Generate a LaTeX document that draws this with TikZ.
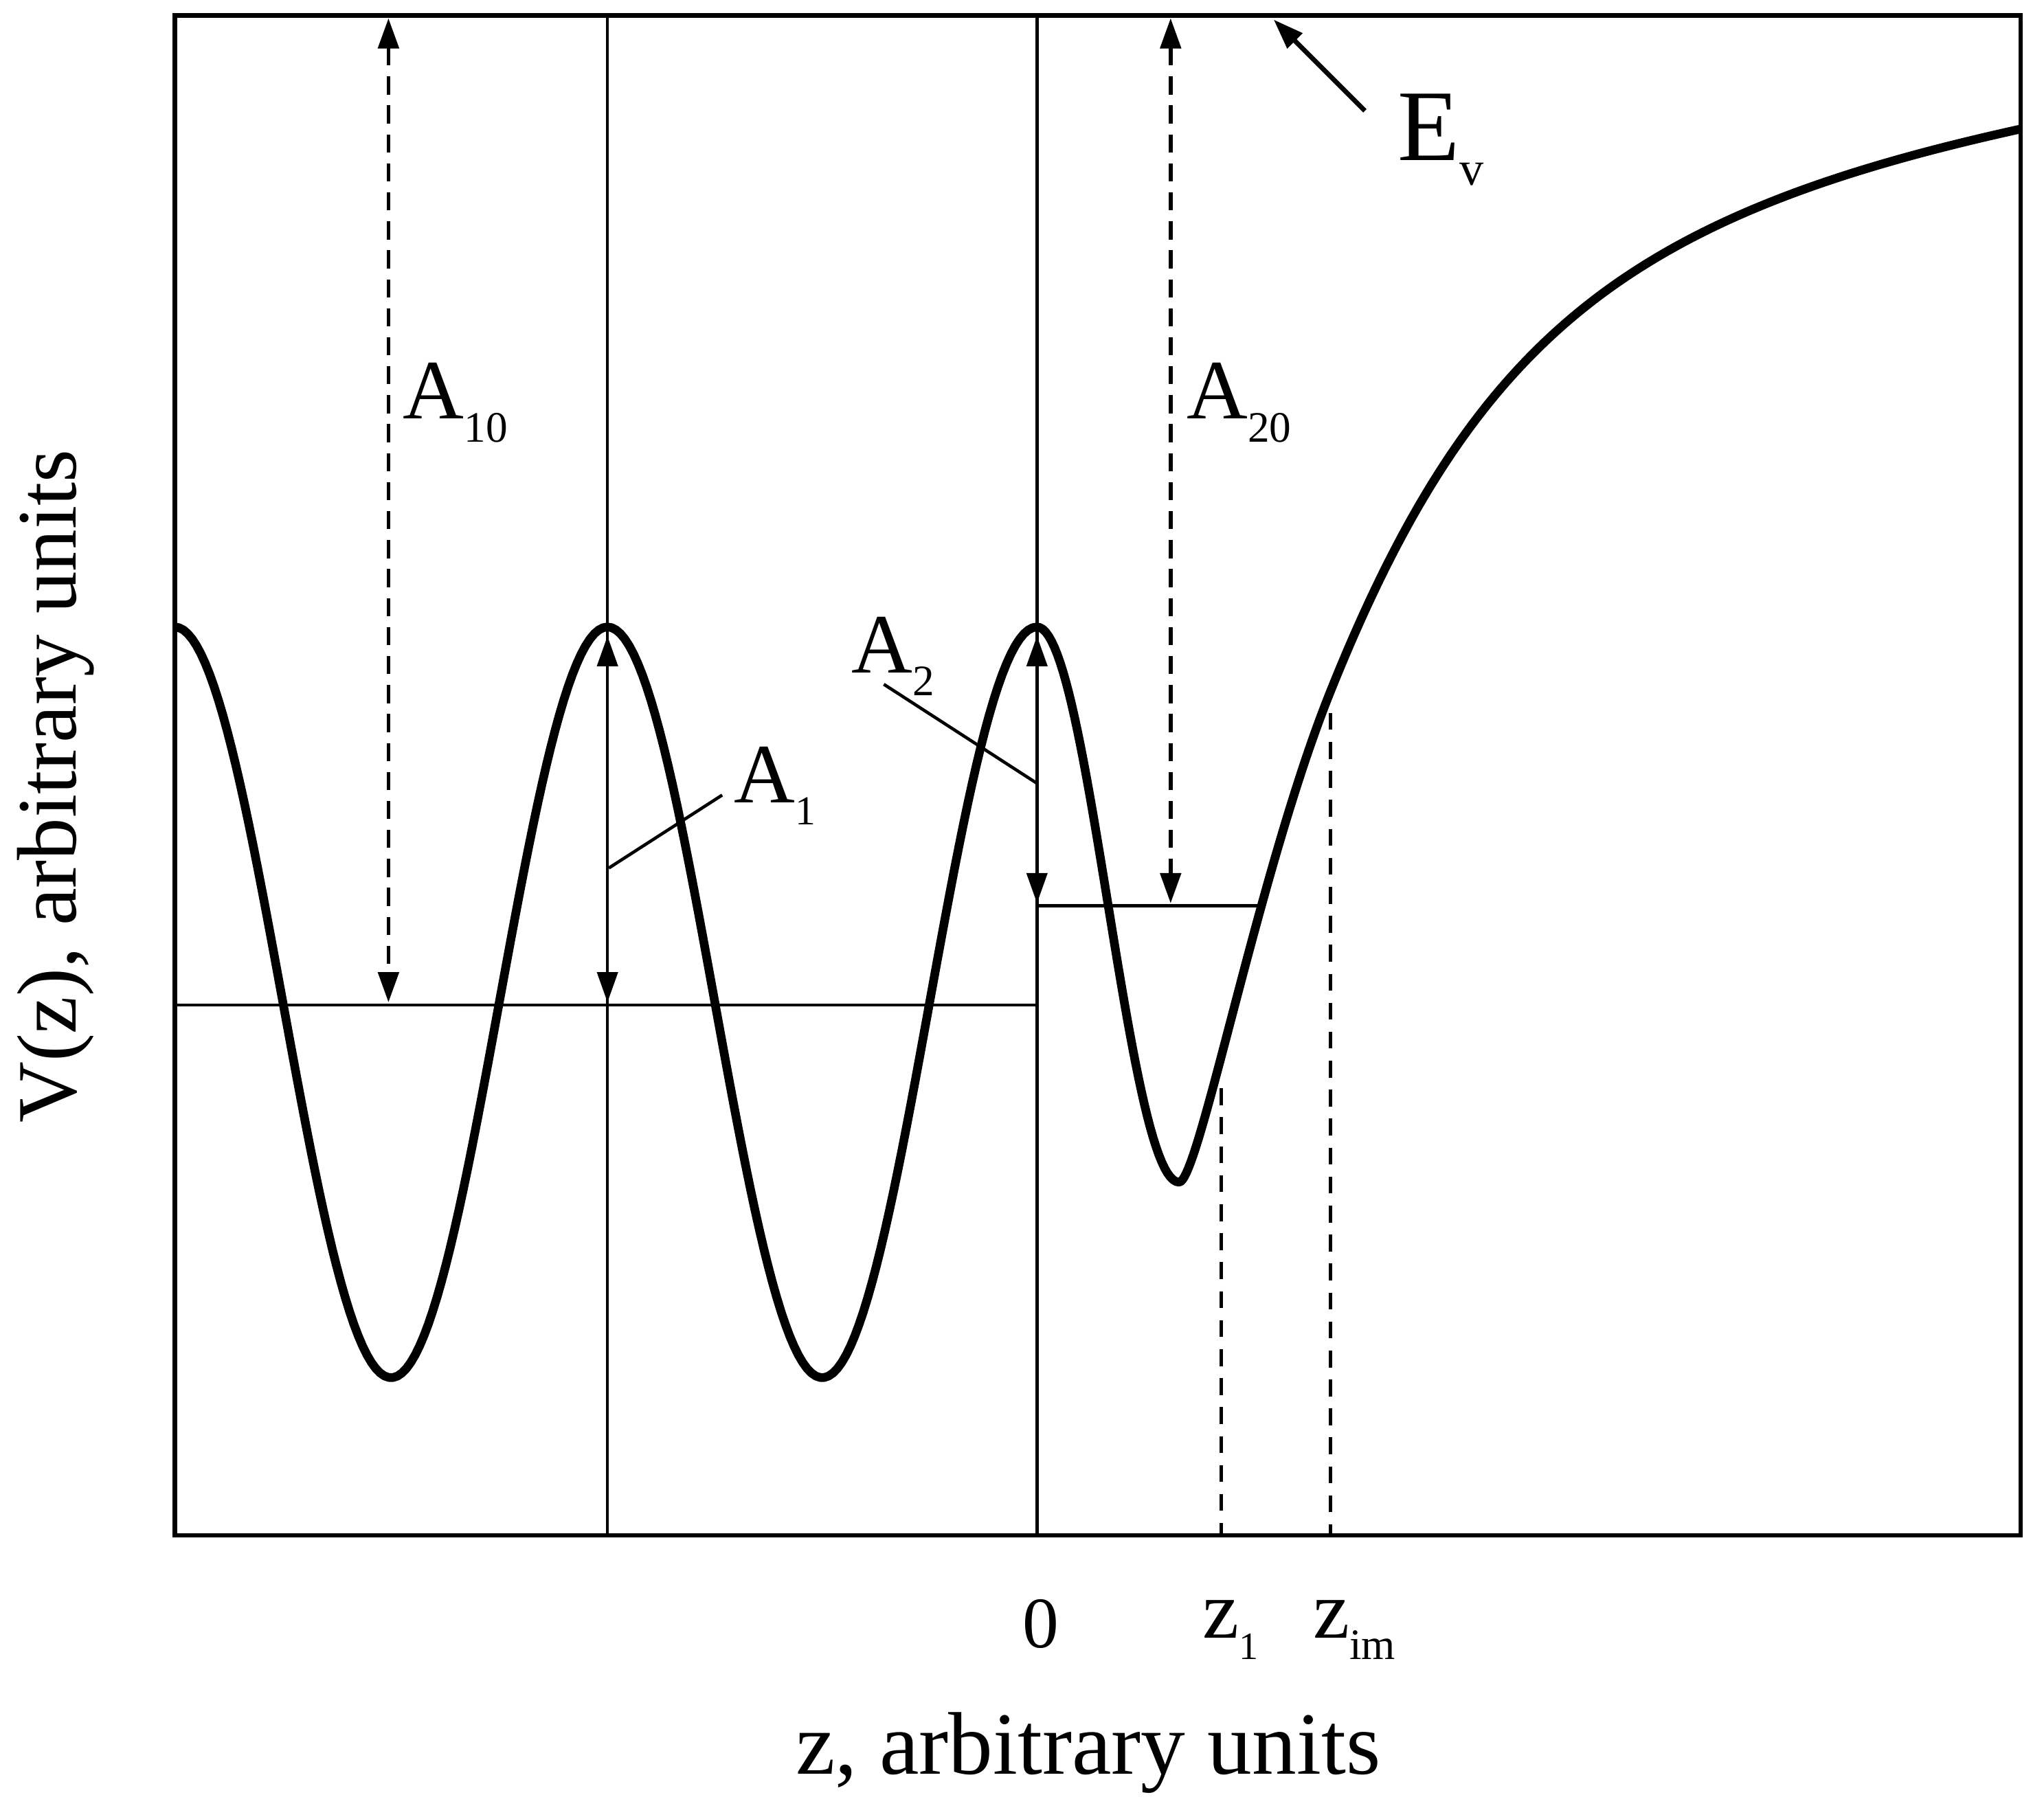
\documentclass[tikz,border=0pt]{standalone}
\usepackage{fontspec}
\setmainfont{Liberation Serif}
\usetikzlibrary{arrows.meta}
\newcommand{\mysub}[3]{\raisebox{-#1}{\fontsize{#2}{#2}\selectfont #3}}
\tikzset{
  frame/.style={line width=1.9pt},
  curve/.style={line width=3.6pt, line join=round, line cap=butt},
  thinline/.style={line width=1.3pt},
  tip/.tip={Triangle[length=12.5pt,width=8.5pt]},
  dimarrow/.style={line width=1.3pt, tip-tip},
  dashdim/.style={line width=1.6pt, tip-tip, dash pattern=on 7.5pt off 4.5pt},
  zline/.style={line width=1.4pt, dash pattern=on 7pt off 5pt},
  lbl/.style={inner sep=0pt, anchor=base west, font=\fontsize{35}{40}\selectfont},
}
\begin{document}
\begin{tikzpicture}[x=0.1897mm, y=-0.1897mm]
\useasboundingbox (0,0) rectangle (1568,1394);
% named points
\coordinate (v1top) at (466,12);   \coordinate (v1bot) at (466,1178);
\coordinate (v2top) at (795.5,12); \coordinate (v2bot) at (795.5,1178);
\coordinate (h1l) at (134,771);    \coordinate (h1r) at (795.5,771);
\coordinate (h2l) at (795.5,695);  \coordinate (h2r) at (966,695);
\coordinate (z1top) at (937,835);  \coordinate (z1bot) at (937,1178);
\coordinate (zimtop) at (1020.5,547); \coordinate (zimbot) at (1020.5,1178);
\coordinate (a10t) at (298,14);  \coordinate (a10b) at (298,769);
\coordinate (a20t) at (898,14);  \coordinate (a20b) at (898,693);
\coordinate (a1t) at (466,488);  \coordinate (a1b) at (466,769);
\coordinate (a2t) at (795.5,488); \coordinate (a2b) at (795.5,693);
\coordinate (evs) at (1047,85);  \coordinate (evt) at (977,15);
\coordinate (l1s) at (467,666);  \coordinate (l1e) at (554,610);
\coordinate (l2s) at (795.5,601); \coordinate (l2e) at (678,525);

% thin construction lines
\draw[thinline] (v1top) -- (v1bot);
\draw[thinline] (v2top) -- (v2bot);
\draw[thinline] (h1l) -- (h1r);
\draw[thinline] (h2l) -- (h2r);
\draw[zline] (z1top) -- (z1bot);
\draw[zline] (zimtop) -- (zimbot);

% potential curve
\draw[curve] plot[domain=134:466, samples=100] (\x,{769-288*cos((\x-134)/332*360)})
  -- plot[domain=466:795.5, samples=100] (\x,{769-288*cos((\x-466)/329.5*360)})
  -- plot[domain=795.5:904.5, samples=50] (\x,{694-213*cos((\x-795.5)/109*180)})
  .. controls (919.5,907) and (965,669.5) .. (1020,532)
  .. controls (1130,257) and (1250,165) .. (1550,99);

% dimension arrows
\draw[dashdim] (a10t) -- (a10b);
\draw[dashdim] (a20t) -- (a20b);
\draw[dimarrow] (a1t) -- (a1b);
\draw[dimarrow] (a2t) -- (a2b);
\draw[line width=2pt, -tip] (evs) -- (evt);
\draw[thinline] (l1s) -- (l1e);
\draw[thinline] (l2s) -- (l2e);

% frame
\draw[frame] (134,12) rectangle (1550,1178);

% labels
\node[lbl] (A10) at (309,321) {A\mysub{9.7pt}{18}{10}};
\node[lbl] (A20) at (910,321) {A\mysub{9.7pt}{18}{20}};
\node[lbl] (A1) at (563,616) {A\mysub{9pt}{17}{1}};
\node[lbl] (A2) at (653,516) {A\mysub{9.5pt}{18}{2}};
\node[lbl, font=\fontsize{42}{48}\selectfont] (Ev) at (1072,123) {E\mysub{10.3pt}{20}{v}};
\node[inner sep=0pt, anchor=base, font=\fontsize{30}{36}\selectfont] (zero) at (798.5,1264) {0};
\node[lbl, font=\fontsize{34}{40}\selectfont] (z1) at (922,1257) {z\mysub{8.6pt}{16}{1}};
\node[lbl, font=\fontsize{34}{40}\selectfont] (zim) at (1007,1257) {z\mysub{8.6pt}{18}{im}};
\node[lbl, font=\fontsize{36.8}{42}\selectfont] (xlab) at (610,1361) {z, arbitrary units};
\node[lbl, rotate=90] (ylab) at (58,862) {V(z), arbitrary units};
\end{tikzpicture}
\end{document}
